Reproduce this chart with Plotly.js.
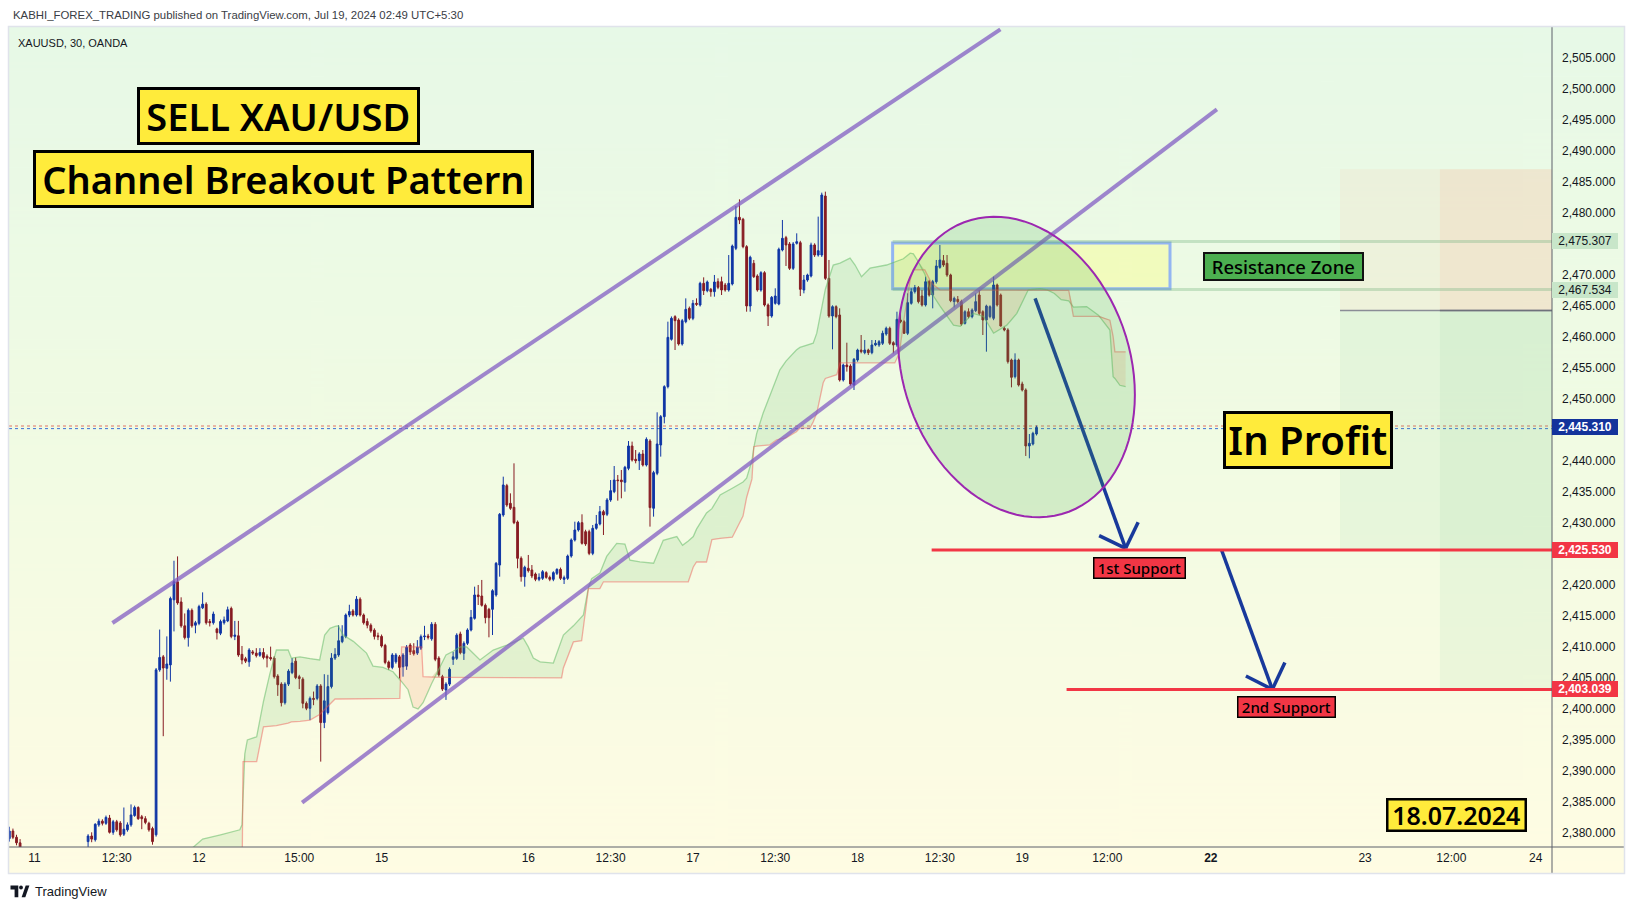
<!DOCTYPE html>
<html><head><meta charset="utf-8">
<script src="https://cdn.plot.ly/plotly-3.0.1.min.js"></script>
<style>html,body{margin:0;padding:0;background:#fff;}#chart{width:1634px;height:909px;}</style>
</head><body><div id="chart"></div>
<script>
// ---------------- DATA ----------------
const firstBar = -7; // bar index of first candle (index 0 = Jul 11 00:00)
const openPrices = [
2379.0,2380.2,2379.2,2378.3,2377.2,2376.0,2375.6,
2375.2,2374.8,2374.1,2375.0,2375.8,2375.4,2374.6,2375.2,2376.0,2375.6,
2375.1,2375.9,2376.6,2376.2,2377.0,2378.5,2379.4,2378.8,2381.2,2381.8,
2381.45,2382.3,2380.0,2381.7,2381.5,2379.7,2380.4,2381.2,2382.7,2384.0,
2382.5,2382.2,2381.45,2380.6,2379.6,2406.2,2408.3,2406.45,2407.0,2417.5,
2420.4,2417.15,2413.3,2411.4,2415.8,2413.4,2413.7,2416.2,2416.8,2414.0,
2413.8,2412.8,2412.1,2413.8,2414.1,2416.1,2411.6,2411.7,2408.7,2408.0,
2407.5,2409.1,2408.9,2408.55,2409.0,2408.4,2408.2,2408.1,2405.2,2403.9,
2400.9,2403.9,2405.75,2407.6,2405.1,2404.7,2400.8,2400.0,2401.6,2401.6,
2403.6,2397.7,2399.3,2403.5,2408.1,2408.6,2410.75,2411.6,2415.05,2415.7,
2415.05,2417.6,2415.05,2414.0,2413.4,2412.6,2411.7,2411.6,2410.15,2407.45,
2406.6,2407.5,2408.3,2406.7,2406.8,2410.2,2409.3,2408.9,2409.7,2411.55,
2411.65,2411.2,2413.55,2408.1,2405.1,2402.96,2403.9,2407.9,2408.06,2411.99,
2408.87,2410.48,2412.63,2414.51,2418.28,2418.11,2416.61,2415.96,2415.96,2418.28,
2423.11,2431.18,2435.91,2433.06,2432.42,2430.05,2424.19,2421.23,2422.58,2422.31,
2421.66,2420.8,2420.96,2421.88,2421.12,2420.8,2421.77,2422.41,2420.8,2420.96,
2424.56,2427.15,2428.76,2429.94,2428.49,2428.49,2424.99,2429.03,2429.73,2431.72,
2431.29,2433.6,2434.94,2436.82,2436.82,2436.45,2438.7,2442.31,2440.16,2439.94,
2441.02,2439.24,2443.11,2432.26,2437.9,2442.47,2447.04,2451.88,2459.51,2463.17,
2462.63,2458.76,2462.36,2464.51,2462.9,2465.32,2465.05,2468.54,2467.36,2467.58,
2467.2,2468.81,2468.81,2468.28,2467.47,2468.44,2474.19,2479.19,2478.87,2474.46,
2464.89,2471.77,2469.73,2467.47,2470.26,2465.05,2463.27,2465.32,2465.21,2473.92,
2475.91,2474.89,2470.96,2475.0,2475.1,2467.47,2469.08,2469.73,2474.73,2473.11,
2473.11,2482.63,2469.35,2463.27,2464.78,2463.43,2452.95,2455.37,2455.21,2452.14,
2456.18,2457.79,2457.36,2457.79,2457.36,2458.6,2458.6,2458.87,2460.37,2461.29,
2458.97,2458.6,2462.63,2462.36,2460.48,2465.32,2467.2,2467.85,2466.5,2465.05,
2468.81,2466.66,2468.81,2471.12,2472.2,2471.77,2469.89,2465.59,2465.96,2465.59,
2462.09,2463.97,2463.17,2464.14,2466.66,2463.97,2462.63,2463.17,2462.9,2468.28,
2466.66,2461.29,2461.02,2456.18,2453.49,2456.18,2452.31,2451.34,2442.31,2442.63,2444.24
];
const highPrices = [
2380.9,2380.6,2379.6,2378.9,2377.5,2376.8,2376.4,
2376.1,2375.5,2375.3,2376.2,2376.5,2376.0,2375.7,2376.4,2377.0,2376.3,
2376.2,2377.1,2377.2,2377.3,2377.5,2379.7,2380.0,2381.45,2382.2,2382.1,
2382.7,2382.8,2382.0,2382.0,2381.8,2384.0,2381.6,2384.5,2384.3,2384.2,
2382.8,2382.6,2381.7,2380.9,2406.5,2412.7,2408.6,2411.6,2418.0,2423.8,
2424.5,2417.9,2415.3,2416.1,2416.1,2414.1,2416.7,2418.7,2417.1,2414.4,
2415.6,2413.0,2414.3,2414.8,2416.4,2416.4,2414.1,2414.1,2410.05,2408.3,
2409.7,2409.4,2409.7,2409.7,2409.7,2408.7,2409.95,2408.4,2405.5,2404.2,
2404.2,2406.3,2408.1,2408.2,2405.4,2405.0,2401.1,2401.9,2402.7,2403.9,
2403.9,2405.5,2405.4,2408.9,2409.7,2413.4,2413.4,2415.3,2416.7,2416.0,
2418.1,2417.9,2415.3,2414.5,2413.7,2412.9,2412.2,2411.9,2410.4,2407.7,
2408.9,2408.9,2408.6,2408.9,2410.2,2410.5,2410.5,2411.0,2411.9,2413.3,
2412.0,2413.9,2413.9,2408.4,2405.4,2404.2,2406.6,2409.1,2412.1,2412.36,
2410.8,2412.9,2415.86,2419.62,2419.89,2420.7,2416.9,2416.2,2419.2,2423.6,
2431.5,2437.36,2436.2,2434.67,2439.51,2430.3,2424.5,2423.0,2424.73,2423.11,
2421.9,2421.77,2422.3,2422.1,2421.4,2422.1,2422.58,2422.7,2421.4,2424.8,
2427.4,2430.1,2430.2,2431.29,2428.8,2428.8,2429.56,2431.18,2432.63,2432.0,
2433.9,2436.82,2439.08,2437.63,2438.44,2439.1,2443.11,2443.01,2441.66,2441.3,
2441.66,2443.7,2443.4,2438.3,2447.74,2447.3,2452.1,2462.36,2463.2,2463.4,
2462.9,2462.8,2466.12,2464.8,2465.86,2466.12,2468.8,2469.51,2469.0,2467.8,
2469.89,2469.35,2469.62,2468.6,2473.11,2474.8,2481.02,2482.09,2479.1,2474.7,
2473.0,2472.31,2470.0,2470.5,2470.5,2465.3,2466.5,2467.74,2474.3,2478.76,
2476.2,2475.2,2475.2,2476.61,2475.4,2469.89,2470.1,2475.1,2475.0,2479.3,
2483.17,2483.33,2472.31,2465.0,2465.0,2464.51,2455.6,2458.97,2455.5,2456.5,
2458.0,2460.21,2459.4,2458.0,2459.4,2459.4,2459.4,2460.91,2461.56,2461.56,
2459.2,2463.97,2463.7,2462.6,2466.93,2467.74,2468.28,2468.1,2467.47,2469.62,
2469.1,2469.1,2472.31,2474.73,2473.11,2473.11,2470.1,2466.4,2466.5,2465.9,
2464.2,2464.51,2464.5,2466.93,2467.47,2464.2,2465.1,2465.0,2469.62,2468.5,
2466.9,2461.56,2461.3,2456.4,2457.25,2456.4,2452.68,2451.6,2444.24,2444.6,2445.6
];
const lowPrices = [
2378.5,2378.9,2377.9,2376.8,2375.5,2374.9,2374.6,
2374.3,2373.6,2373.4,2374.5,2374.9,2374.2,2373.8,2374.8,2375.2,2374.7,
2374.6,2375.3,2375.8,2375.6,2376.1,2377.0,2378.4,2378.5,2380.9,2381.1,
2381.2,2379.8,2379.6,2380.1,2379.3,2379.4,2380.1,2380.9,2382.5,2382.0,
2380.5,2381.3,2380.1,2378.0,2379.3,2405.9,2395.5,2404.6,2404.3,2412.4,
2416.7,2413.0,2411.1,2409.95,2413.0,2412.1,2413.4,2416.0,2413.5,2413.2,
2413.5,2411.1,2411.8,2413.5,2413.9,2411.3,2411.0,2408.3,2407.1,2407.3,
2406.7,2408.6,2408.2,2408.3,2407.9,2406.6,2407.7,2404.8,2402.0,2400.3,
2400.6,2403.6,2405.5,2404.7,2403.1,2400.0,2399.7,2398.1,2400.5,2401.3,
2391.4,2396.8,2399.0,2403.2,2407.8,2408.3,2410.5,2411.3,2414.7,2414.8,
2414.8,2414.8,2413.5,2412.9,2412.2,2411.1,2411.0,2409.8,2407.1,2406.2,
2406.3,2407.2,2404.8,2405.1,2406.2,2408.6,2408.5,2408.6,2409.4,2411.0,
2411.1,2410.9,2407.6,2405.1,2402.8,2401.35,2403.6,2407.0,2407.8,2408.7,
2407.8,2410.2,2412.4,2414.3,2416.66,2416.4,2413.7,2411.45,2411.82,2418.0,
2421.23,2430.9,2432.5,2432.0,2429.7,2422.58,2420.43,2419.62,2421.9,2421.0,
2420.5,2420.5,2420.7,2420.9,2420.5,2420.5,2421.5,2420.7,2420.05,2420.7,
2424.3,2426.9,2428.5,2426.4,2426.2,2424.7,2424.7,2428.8,2429.5,2427.95,
2431.0,2433.3,2434.7,2433.49,2433.87,2434.94,2438.4,2439.8,2439.51,2438.44,
2439.0,2439.0,2429.3,2430.91,2437.6,2440.59,2445.96,2451.6,2459.3,2457.79,
2458.5,2458.5,2462.1,2462.6,2462.6,2464.9,2464.8,2466.66,2467.1,2466.39,
2466.39,2467.6,2466.66,2467.2,2467.2,2468.2,2473.9,2478.1,2474.2,2463.97,
2463.97,2469.4,2467.2,2467.2,2464.8,2461.66,2463.0,2465.1,2465.0,2473.7,
2471.34,2470.7,2470.7,2474.8,2466.5,2466.93,2468.8,2469.5,2472.8,2472.85,
2472.8,2469.1,2463.0,2457.9,2462.9,2452.7,2452.7,2454.3,2452.0,2451.34,
2455.9,2457.25,2457.1,2456.98,2457.1,2458.4,2458.3,2458.6,2460.1,2458.6,
2457.25,2458.3,2462.1,2460.37,2460.2,2465.1,2466.9,2465.3,2464.8,2464.8,
2466.4,2464.51,2468.5,2470.9,2471.2,2469.6,2465.5,2464.67,2465.3,2461.7,
2461.9,2462.9,2462.9,2463.9,2463.4,2460.21,2457.52,2462.9,2462.6,2464.8,
2461.56,2460.8,2455.6,2451.77,2453.2,2451.9,2451.1,2440.7,2440.32,2442.4,2444.0
];
const closePrices = [
2380.2,2379.2,2378.3,2377.2,2376.0,2375.6,2375.2,
2374.8,2374.1,2375.0,2375.8,2375.3,2374.6,2375.2,2376.0,2375.6,2375.1,
2375.9,2376.6,2376.2,2377.0,2376.8,2379.4,2378.9,2381.3,2381.8,2381.45,
2382.4,2380.0,2381.7,2380.4,2379.6,2380.5,2381.2,2382.8,2384.0,2382.2,
2382.2,2381.6,2380.4,2378.5,2406.2,2408.2,2406.5,2407.15,2417.7,2420.4,
2417.0,2413.3,2411.4,2415.8,2413.3,2413.8,2416.4,2416.8,2413.8,2413.8,
2415.2,2412.2,2414.0,2414.25,2415.9,2411.6,2411.8,2408.6,2407.8,2407.6,
2409.4,2408.9,2408.5,2409.0,2408.2,2408.1,2408.0,2405.1,2403.8,2400.9,
2403.9,2406.0,2407.3,2404.95,2404.8,2400.8,2400.0,2401.6,2401.45,2403.6,
2397.7,2401.2,2403.5,2408.1,2408.7,2410.9,2411.6,2415.05,2415.6,2415.05,
2417.6,2415.05,2413.8,2413.4,2412.5,2411.6,2411.55,2410.05,2407.4,2406.6,
2408.6,2408.6,2406.6,2408.6,2409.85,2409.1,2408.8,2409.85,2411.55,2411.65,
2411.45,2413.55,2407.9,2405.4,2403.1,2403.9,2406.3,2408.3,2411.8,2408.97,
2410.48,2412.63,2414.67,2418.28,2418.01,2416.61,2414.62,2414.62,2418.97,2423.38,
2431.29,2436.02,2432.79,2432.26,2429.94,2424.19,2421.23,2422.74,2422.2,2421.34,
2420.8,2421.12,2422.04,2421.12,2420.8,2421.88,2422.41,2420.96,2421.07,2424.56,
2427.15,2428.76,2429.94,2426.61,2426.5,2424.99,2429.03,2429.73,2431.72,2431.18,
2433.6,2435.1,2436.82,2436.72,2436.55,2438.87,2442.31,2440.05,2439.94,2441.02,
2439.24,2443.38,2432.37,2438.01,2442.63,2447.04,2451.88,2459.83,2462.9,2462.52,
2458.76,2462.52,2464.35,2462.9,2465.32,2465.16,2468.54,2467.36,2468.76,2467.2,
2468.76,2467.9,2467.47,2467.47,2468.54,2474.56,2479.19,2478.76,2474.46,2464.89,
2472.74,2469.62,2467.47,2470.26,2465.05,2463.27,2466.28,2466.5,2474.03,2475.8,
2474.73,2470.96,2474.89,2475.26,2467.58,2469.08,2469.89,2474.73,2473.11,2473.81,
2482.79,2469.35,2463.27,2464.78,2463.17,2452.95,2455.37,2455.1,2452.31,2456.29,
2457.79,2457.52,2457.79,2457.36,2458.6,2458.87,2459.13,2460.48,2461.29,2458.87,
2458.6,2462.74,2462.36,2460.48,2465.43,2467.2,2467.85,2465.59,2465.05,2468.81,
2466.66,2468.81,2471.34,2472.31,2471.5,2469.89,2465.75,2466.12,2465.59,2461.98,
2463.97,2463.17,2464.24,2465.59,2463.7,2462.63,2464.89,2464.78,2468.28,2465.05,
2461.66,2461.02,2455.91,2453.38,2456.18,2452.14,2451.34,2442.31,2442.74,2444.35,2445.31
];

// Ichimoku cloud (displaced spans), sampled at bar positions
const cloudX = [44,47,52,57.4,58.0,58.3,58.8,59.5,62.1,64.0,65.8,67.6,70.9,71.8,74.2,77.0,79.7,81.1,82.6,84.0,84.9,86.3,89.1,92.8,94.6,97.4,100.2,102.1,102.6,104.4,105.8,107.2,108.2,108.6,111.0,113.3,115.0,117.0,119.0,120.8,124.5,128.2,132.0,136.6,138.0,139.4,141.3,145.0,147.3,147.8,150.6,152.9,153.4,154.8,155.7,158.0,159.0,159.9,162.7,165.0,166.4,169.2,173.0,175.7,179.5,181.1,182.7,184.1,185.0,187.8,189.3,191.6,195.0,198.0,199.0,200.5,201.0,201.8,203.6,205.5,207.4,208.3,210.0,212.9,213.9,216.7,217.6,218.6,220.4,221.0,223.2,224.2,225.1,227.9,229.3,231.1,233.5,238.1,240.4,241.7,242.8,244.7,245.6,247.0,248.8,250.3,251.2,253.0,256.8,258.7,262.3,265.2,268.0,271.7,274.5,277.7,281.0,283.0,285.0,286.9,289.0,290.3,294.0,297.3,300.5,301.4,301.9,303.3,304.9];
const spanA = [2377.4,2378.9,2379.6,2380.4,2381.2,2386.0,2392.7,2394.9,2395.4,2401.1,2405.6,2409.4,2409.4,2408.1,2408.3,2408.0,2407.8,2411.8,2412.9,2413.2,2413.3,2411.8,2410.8,2408.9,2406.8,2406.6,2405.9,2404.6,2404.3,2403.0,2400.2,2399.9,2400.5,2400.9,2404.0,2406.7,2408.6,2409.2,2409.9,2409.9,2407.8,2409.4,2410.2,2411.3,2409.9,2408.1,2407.5,2407.3,2411.0,2411.8,2413.3,2414.8,2415.05,2419.5,2420.9,2421.8,2423.1,2424.5,2426.6,2426.5,2423.9,2423.6,2423.4,2427.1,2427.7,2426.3,2427.0,2427.7,2428.9,2431.5,2432.2,2434.4,2435.5,2436.5,2437.1,2440.0,2442.0,2444.3,2447.6,2450.5,2453.5,2454.6,2456.0,2457.8,2458.2,2458.8,2458.9,2460.5,2465.9,2467.6,2471.5,2471.6,2471.8,2472.6,2471.5,2469.6,2471.0,2471.5,2472.0,2472.2,2472.5,2473.4,2473.3,2472.0,2470.0,2467.5,2466.5,2464.9,2461.8,2461.6,2463.7,2463.2,2460.5,2461.8,2463.7,2467.5,2467.7,2467.5,2466.9,2465.9,2465.7,2464.7,2464.8,2463.4,2461.0,2453.5,2453.2,2452.1,2451.9];
const spanB = [2370,2370,2370,2370,2370,2391.4,2391.4,2391.4,2391.4,2397.0,2397.1,2397.2,2397.6,2397.8,2397.9,2398.1,2399.0,2399.8,2400.6,2401.5,2401.5,2401.5,2401.5,2401.5,2401.5,2401.5,2401.5,2401.6,2409.9,2409.9,2409.9,2409.9,2409.9,2405.1,2405.0,2405.0,2405.0,2405.0,2405.0,2405.0,2404.9,2404.9,2404.9,2404.9,2404.9,2404.9,2404.9,2404.9,2404.9,2406.5,2410.7,2410.9,2413.0,2419.3,2419.3,2419.3,2420.4,2420.4,2420.4,2420.4,2420.4,2420.4,2420.4,2420.4,2420.4,2420.4,2420.4,2422.8,2423.6,2423.6,2427.2,2427.4,2427.6,2431.0,2434.0,2437.0,2442.2,2442.3,2442.4,2442.5,2443.3,2443.4,2443.6,2444.6,2445.2,2445.2,2446.2,2447.6,2452.5,2453.2,2453.6,2453.8,2455.7,2455.7,2455.7,2455.7,2455.7,2455.7,2455.7,2457.3,2462.1,2469.1,2470.7,2470.7,2470.7,2469.0,2468.3,2467.5,2467.5,2467.5,2467.5,2467.5,2467.5,2467.5,2467.5,2467.5,2467.5,2467.4,2467.4,2467.4,2467.4,2463.2,2463.2,2463.2,2462.6,2460.0,2457.5,2457.5,2457.5];

// Time axis labels (bar positions)
const tickPositions = [0,23,46,74,97,138,161,184,207,230,253,276,299.8,328.7,371.8,395.9,419.5];
const tickLabels = ['11','12:30','12','15:00','15','16','12:30','17','12:30','18','12:30','19','12:00','<b>22</b>','23','12:00','24'];

// Drawn levels
const resistanceHigh = 2475.307, resistanceLow = 2467.534;
const support1 = 2425.530, support2 = 2403.039;
const stopLevel = 2486.94, entryLevel = 2464.17;

// ---------------- GEOMETRY ----------------
const W=1634, H=909, PL=9, PR=1552, PT=27, PB=847;
const xRange=[-7.097, 424.03], yRange=[2377.629, 2509.887];
const pxPerBar=(PR-PL)/(xRange[1]-xRange[0]);
const pxPerPt=(PB-PT)/(yRange[1]-yRange[0]);
const paperX = px => (px-PL)/(PR-PL);
const paperY = py => (PB-py)/(PB-PT);

const n = Math.min(openPrices.length, highPrices.length, lowPrices.length, closePrices.length);
const barX = []; for (let i=0;i<n;i++) barX.push(firstBar+i);
const lastClose = closePrices[n-1];
const cloudTop = spanA.map((a,i)=>Math.max(a, spanB[i]));

// price-axis ticks every 5, hidden where a price tag covers them
const tagPrices = [resistanceHigh, resistanceLow, lastClose, support1, support2];
const yTicks = [];
for (let v=2380; v<=2505; v+=5) {
  if (!tagPrices.some(p => Math.abs(p - v) < 1.2)) yTicks.push(v);
}

// background gradient
const cv=document.createElement('canvas'); cv.width=8; cv.height=512;
const cx=cv.getContext('2d');
const gr=cx.createLinearGradient(0,0,0,512);
gr.addColorStop(0,'#e7f9e7'); gr.addColorStop(0.5,'#f1fbe3'); gr.addColorStop(1,'#fffce3');
cx.fillStyle=gr; cx.fillRect(0,0,8,512);
const bgURL=cv.toDataURL('image/png');

const FONT='Liberation Sans, Arial, sans-serif';
const BOXFONT='Noto Sans, Open Sans, sans-serif';

const traces = [
 {type:'scatter',x:cloudX,y:spanB,mode:'lines',line:{width:0},hoverinfo:'skip'},
 {type:'scatter',x:cloudX,y:cloudTop,mode:'lines',line:{width:0},fill:'tonexty',fillcolor:'rgba(76,175,80,0.13)',hoverinfo:'skip'},
 {type:'scatter',x:cloudX,y:spanA,mode:'lines',line:{width:0},hoverinfo:'skip'},
 {type:'scatter',x:cloudX,y:cloudTop,mode:'lines',line:{width:0},fill:'tonexty',fillcolor:'rgba(255,120,70,0.14)',hoverinfo:'skip'},
 {type:'scatter',x:cloudX,y:spanA,mode:'lines',line:{color:'rgba(102,187,106,0.55)',width:1.3},hoverinfo:'skip'},
 {type:'scatter',x:cloudX,y:spanB,mode:'lines',line:{color:'rgba(239,83,80,0.45)',width:1.3},hoverinfo:'skip'},
 {type:'candlestick',x:barX,open:openPrices.slice(0,n),high:highPrices.slice(0,n),low:lowPrices.slice(0,n),close:closePrices.slice(0,n),
  increasing:{line:{color:'#0f35a5',width:1},fillcolor:'#0f35a5'},
  decreasing:{line:{color:'#871b22',width:1},fillcolor:'#871b22'},
  whiskerwidth:0, hoverinfo:'skip'}
];

// ellipse path (pixel-space shape converted to data units)
function ellipsePath(cb, cp, ax, kxy, by){
  let d='';
  for(let k=0;k<=96;k++){
    const t=2*Math.PI*k/96;
    const dx=ax*Math.cos(t), dy=kxy*Math.cos(t)+by*Math.sin(t);
    const x=cb+dx/pxPerBar, y=cp-dy/pxPerPt;
    d+=(k===0?'M':'L')+x.toFixed(3)+','+y.toFixed(3);
  }
  return d+'Z';
}
function seg(x0,y0,x1,y1,color,width){
  return {type:'line',xref:'x',yref:'y',x0,y0,x1,y1,line:{color,width},layer:'above'};
}
function pxPath(pts){ return 'M'+pts.map(p=>paperX(p[0]).toFixed(5)+','+paperY(p[1]).toFixed(5)).join('L')+'Z'; }

const posStart1=364.8, posStart2=392.7;
const arrowColor='#18399b';
const shapes = [
 // short position tools
 {type:'rect',xref:'x',yref:'y',x0:posStart1,x1:xRange[1],y0:entryLevel,y1:stopLevel,fillcolor:'rgba(255,150,110,0.08)',line:{width:0},layer:'below'},
 {type:'rect',xref:'x',yref:'y',x0:posStart1,x1:xRange[1],y0:support1,y1:entryLevel,fillcolor:'rgba(90,190,110,0.07)',line:{width:0},layer:'below'},
 {type:'rect',xref:'x',yref:'y',x0:posStart2,x1:xRange[1],y0:entryLevel,y1:stopLevel,fillcolor:'rgba(255,150,110,0.11)',line:{width:0},layer:'below'},
 {type:'rect',xref:'x',yref:'y',x0:posStart2,x1:xRange[1],y0:support2,y1:entryLevel,fillcolor:'rgba(90,190,110,0.08)',line:{width:0},layer:'below'},
 {type:'line',xref:'x',yref:'y',x0:posStart1,x1:xRange[1],y0:entryLevel,y1:entryLevel,line:{color:'#8a8d96',width:1.5},layer:'below'},
 {type:'line',xref:'x',yref:'y',x0:posStart2,x1:xRange[1],y0:entryLevel,y1:entryLevel,line:{color:'#6f727c',width:1.5},layer:'below'},
 // resistance zone
 {type:'rect',xref:'x',yref:'y',x0:239.8,x1:317.3,y0:2467.65,y1:2475.05,fillcolor:'rgba(255,255,90,0.28)',line:{color:'#93b5f2',width:3},layer:'below'},
 {type:'line',xref:'x',yref:'y',x0:239.8,x1:xRange[1],y0:resistanceHigh,y1:resistanceHigh,line:{color:'rgba(120,180,130,0.35)',width:3},layer:'below'},
 {type:'line',xref:'x',yref:'y',x0:239.8,x1:xRange[1],y0:resistanceLow,y1:resistanceLow,line:{color:'rgba(120,180,130,0.35)',width:3},layer:'below'},
 // last price lines
 {type:'line',xref:'paper',yref:'y',x0:0,x1:1,y0:lastClose+0.22,y1:lastClose+0.22,line:{color:'rgba(220,70,60,0.75)',width:1,dash:'dot'},layer:'below'},
 {type:'line',xref:'paper',yref:'y',x0:0,x1:1,y0:lastClose-0.2,y1:lastClose-0.2,line:{color:'rgba(30,90,210,0.85)',width:1,dash:'dot'},layer:'below'},
 // channel
 seg(21.8,2413.76,269.9,2509.5,'rgba(126,87,194,0.72)',4),
 seg(74.8,2384.8,330.4,2496.6,'rgba(126,87,194,0.72)',4),
 // arrows
 seg(279.6,2466.13,304.9,2425.8,arrowColor,3.5),
 seg(297.5,2427.84,304.9,2425.8,arrowColor,3.5),
 seg(308.4,2430.0,304.9,2425.8,arrowColor,3.5),
 seg(331.7,2425.53,345.9,2403.06,arrowColor,3.5),
 seg(338.5,2405.2,345.9,2403.06,arrowColor,3.5),
 seg(349.4,2407.4,345.9,2403.06,arrowColor,3.5),
 // supports
 {type:'line',xref:'x',yref:'y',x0:250.7,x1:xRange[1],y0:support1,y1:support1,line:{color:'#f23645',width:3},layer:'above'},
 {type:'line',xref:'x',yref:'y',x0:288.4,x1:xRange[1],y0:support2,y1:support2,line:{color:'#f23645',width:3},layer:'above'},
 // ellipse
 {type:'path',xref:'x',yref:'y',path:ellipsePath(274.4,2455.05,118.4,27.7,147.7),fillcolor:'rgba(76,175,80,0.19)',line:{color:'#9c27b0',width:2},layer:'above'},
 // frame
 {type:'line',xref:'paper',yref:'paper',x0:0,x1:paperX(1624),y0:0,y1:0,line:{color:'#5d606b',width:1},layer:'above'},
 {type:'line',xref:'paper',yref:'paper',x0:1,x1:1,y0:paperY(873),y1:1.001,line:{color:'#5d606b',width:1},layer:'above'},
 {type:'rect',xref:'paper',yref:'paper',x0:paperX(8.5),x1:paperX(1624.5),y0:paperY(873.5),y1:paperY(26.5),line:{color:'#e0e3eb',width:1.5},fillcolor:'rgba(0,0,0,0)',layer:'above'},
 // TradingView logo
 {type:'path',xref:'paper',yref:'paper',path:pxPath([[10.5,885.5],[18.3,885.5],[18.3,897.2],[14.6,897.2],[14.6,889.4],[10.5,889.4]]),fillcolor:'#131722',line:{width:0}},
 {type:'circle',xref:'paper',yref:'paper',x0:paperX(19.1),x1:paperX(22.9),y0:paperY(889.4),y1:paperY(885.6),fillcolor:'#131722',line:{width:0}},
 {type:'path',xref:'paper',yref:'paper',path:pxPath([[21.6,897.2],[25.7,885.5],[29.4,885.5],[25.3,897.2]]),fillcolor:'#131722',line:{width:0}}
];

function box(text, x0,x1,y0,y1, bg, fsize, weight, bw, bcol){
  return {xref:'paper',yref:'paper',x:paperX((x0+x1)/2),y:paperY((y0+y1)/2),xanchor:'center',yanchor:'middle',
    text, showarrow:false, bgcolor:bg, bordercolor:bcol||'#000000', borderwidth:bw, borderpad:0,
    width:(x1-x0)-2*bw, height:(y1-y0)-2*bw, align:'center', valign:'middle',
    font:{family:BOXFONT,size:fsize,color:'#000000',weight}};
}
const fmt = v => v.toLocaleString('en-US',{minimumFractionDigits:3,maximumFractionDigits:3});
function priceTag(price,bg,fg,bold){
  const py = PB - (price - yRange[0])*pxPerPt;
  return {xref:'paper',yref:'paper',x:paperX(1552.5),y:paperY(py),xanchor:'left',yanchor:'middle',
    text: bold?('<b>'+fmt(price)+'</b>'):fmt(price), showarrow:false, bgcolor:bg, borderpad:0, borderwidth:0,
    width:66, height:16, align:'center', valign:'middle', font:{family:FONT,size:12,color:fg}};
}

const annotations = [
 {xref:'paper',yref:'paper',x:paperX(10.5),y:paperY(15),xanchor:'left',yanchor:'middle',showarrow:false,
  text:'KABHI_FOREX_TRADING published on TradingView.com, Jul 19, 2024 02:49 UTC+5:30',font:{family:FONT,size:11.4,color:'#3a3d45'}},
 {xref:'paper',yref:'paper',x:paperX(16),y:paperY(42.5),xanchor:'left',yanchor:'middle',showarrow:false,
  text:'XAUUSD, 30, OANDA',font:{family:FONT,size:11,color:'#131722'}},
 box('SELL XAU/USD',136.7,419.3,87.3,145,'#ffeb3b',38,600,3),
 box('Channel Breakout Pattern',32.7,533.5,150,208.3,'#ffeb3b',38,600,3),
 box('Resistance Zone',1202.7,1363.3,251.7,281,'#4caf50',18.5,500,2,'#111111'),
 box('In Profit',1223.3,1393,410.7,468.3,'#ffeb3b',40,600,3),
 box('1st Support',1093.3,1186,556.7,578.3,'#f23645',15,500,1.5),
 box('2nd Support',1236.7,1335.3,695.7,717.3,'#f23645',15,500,1.5),
 box('18.07.2024',1385.9,1526.5,798.2,832.6,'#ffeb3b',25,600,2.5),
 priceTag(resistanceHigh,'#c8e6c9','#131722',false),
 priceTag(resistanceLow,'#c8e6c9','#131722',false),
 priceTag(lastClose,'#13339b','#ffffff',true),
 priceTag(support1,'#f23645','#ffffff',true),
 priceTag(support2,'#f23645','#ffffff',true),
 {xref:'paper',yref:'paper',x:paperX(32.5),y:paperY(891),xanchor:'left',yanchor:'middle',showarrow:false,
  text:'TradingView',font:{family:FONT,size:13,color:'#131722'}}
];

const layout = {
  width:W, height:H, margin:{l:PL,r:W-PR,t:PT,b:H-PB,pad:0}, autosize:false,
  paper_bgcolor:'#ffffff', plot_bgcolor:'rgba(0,0,0,0)', showlegend:false,
  images:[{source:bgURL,xref:'paper',yref:'paper',x:paperX(8),y:paperY(26),sizex:(1624-8)/(PR-PL),sizey:(873-26)/(PB-PT),
           xanchor:'left',yanchor:'top',sizing:'stretch',layer:'below'}],
  xaxis:{range:xRange,showgrid:false,zeroline:false,showline:false,ticks:'',tickvals:tickPositions,ticktext:tickLabels,
         tickfont:{family:FONT,size:12,color:'#131722'},ticklabelstandoff:2,rangeslider:{visible:false},fixedrange:true},
  yaxis:{range:yRange,side:'right',showgrid:false,zeroline:false,showline:false,ticks:'',tickvals:yTicks,
         tickformat:',.3f',tickfont:{family:FONT,size:12,color:'#131722'},ticklabelstandoff:9,fixedrange:true},
  shapes, annotations
};
Plotly.newPlot('chart', traces, layout, {staticPlot:true, displayModeBar:false});
</script></body></html>
